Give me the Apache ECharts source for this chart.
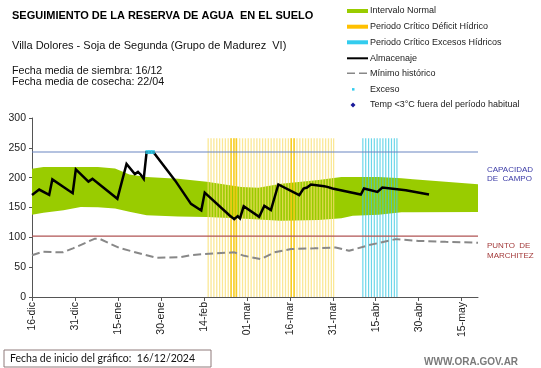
<!DOCTYPE html>
<html><head><meta charset="utf-8">
<script src="https://cdn.jsdelivr.net/npm/echarts@6/dist/echarts.min.js"></script>
<style>html,body{margin:0;padding:0;background:#fff}#c{width:541px;height:368px}</style>
</head><body><div id="c"></div>
<script>
// X axis: days since 16/12/2024
const tickDays = [0, 15, 30, 45, 60, 75, 90, 105, 120, 135, 150];
const tickLabels = ['16-dic', '31-dic', '15-ene', '30-ene', '14-feb', '01-mar', '16-mar', '31-mar', '15-abr', '30-abr', '15-may'];
const xMax = 155.7;

// Normal interval band
const bandDays = [0, 4, 11, 17, 23, 29, 34, 40, 51, 61, 73, 79, 87, 100, 108, 112, 121, 129, 133, 155.7];
const bandLow  = [138, 141, 145.5, 151, 150.5, 148.5, 143, 137, 135, 134, 131.5, 130, 128, 129, 132, 136, 138, 142, 142, 142.5];
const bandHigh = [215, 218, 218, 218, 218, 215.5, 205.5, 201, 198, 193, 184.5, 183, 190, 196, 201, 201, 201, 199, 197.5, 189];

// Almacenaje (soil water storage)
const stoDays = [0, 2.5, 6, 7.1, 14.2, 15.3, 19.7, 21.1, 29.8, 33, 35.9, 37, 38, 39, 40, 42.4, 50, 55.5, 59.1, 60.3, 68.9, 70.6, 71.8, 72.6, 73.9, 79.3, 81.1, 83.4, 86, 93.3, 94.8, 96, 97.4, 102, 103.1, 104.9, 114.8, 115.9, 120.6, 122.3, 130.5, 138.6];
const stoVals = [171, 180, 171, 197, 174, 214, 193.5, 198, 164.5, 223, 206, 209.7, 205, 198, 242.5, 242.5, 195, 156, 145, 175, 137, 130.5, 135.5, 131.6, 152, 134.4, 152.8, 145.6, 188.6, 170.7, 181.9, 183.5, 188.6, 185.7, 184.6, 181.9, 171.8, 181.9, 176.2, 183.5, 179, 171.8];

// Mínimo histórico
const minDays = [0, 3.8, 10.8, 14.3, 21.8, 23.6, 30.6, 43.3, 51.5, 55.5, 63.7, 70.6, 74.1, 79.9, 84.6, 90.4, 98.5, 106, 110.7, 117.7, 127, 135, 144.4, 155.7];
const minVals = [70, 75.8, 74.8, 81.5, 97.5, 97.5, 82, 65.8, 66.5, 70.3, 73, 74.8, 69, 63.6, 74.8, 80.3, 81.5, 83, 77.5, 87, 97, 94, 92.5, 91];

// Capacidad de campo / punto de marchitez
const fieldCapacity = 243;
const wiltingPoint = 102;

// Exceso markers
const excessDays = [40.3, 41.3, 42.2];
const excessVals = [243, 243, 243];

// Critical periods (daily lines)
const periodTop = 266;
const deficitDays = [61.5, 62.5, 63.5, 64.5, 65.5, 66.5, 67.5, 68.5, 69.5, 70.5, 71.5, 72.5, 73.5, 74.5, 75.5, 76.5, 77.5, 78.5, 79.5, 80.5, 81.5, 82.5, 83.5, 84.5, 85.5, 86.5, 87.5, 88.5, 89.5, 90.5, 91.5, 92.5, 93.5, 94.5, 95.5, 96.5, 97.5, 98.5, 99.5, 100.5, 101.5, 102.5, 103.5, 104.5, 105.3];
const deficitStrongDays = [69.5, 70.5, 71.3, 90.5, 91.5];
const excessPeriodDays = [115.5, 116.5, 117.5, 118.5, 119.5, 120.5, 121.5, 122.5, 123.5, 124.5, 125.5, 126.5, 127.4];

const FONT = 'Liberation Sans, Arial, sans-serif';

function vline(color, width) {
  return function (params, api) {
    const p0 = api.coord([api.value(0), 0]);
    const p1 = api.coord([api.value(0), api.value(1)]);
    return { type: 'line', shape: { x1: p0[0], y1: p0[1], x2: p1[0], y2: p1[1] },
      style: { stroke: color, lineWidth: width } };
  };
}

function bandPolygon(params, api) {
  if (params.dataIndex !== 0) return null;
  const pts = [];
  for (let i = 0; i < bandDays.length; i++) pts.push(api.coord([bandDays[i], bandHigh[i]]));
  for (let i = bandDays.length - 1; i >= 0; i--) pts.push(api.coord([bandDays[i], bandLow[i]]));
  return { type: 'polygon', shape: { points: pts }, style: { fill: '#99cc00' } };
}

const chart = echarts.init(document.getElementById('c'), null, { renderer: 'canvas' });

const legendRows = [
  { y: 11, kind: 'bar', color: '#99cc00', text: 'Intervalo Normal' },
  { y: 26.7, kind: 'bar', color: '#ffc000', text: 'Periodo Crítico Déficit Hídrico' },
  { y: 42.3, kind: 'bar', color: '#33ccee', text: 'Periodo Crítico Excesos Hídricos' },
  { y: 58.3, kind: 'line', color: '#000', text: 'Almacenaje' },
  { y: 73.3, kind: 'dash', color: '#888', text: 'Mínimo histórico' },
  { y: 89.3, kind: 'dot', color: '#33ccee', text: 'Exceso' },
  { y: 105, kind: 'diamond', color: '#1a1a9a', text: 'Temp <3°C fuera del período habitual' }
];
const legendEls = [];
legendRows.forEach(r => {
  if (r.kind === 'bar') legendEls.push({ type: 'rect', shape: { x: 347, y: r.y - 2, width: 21, height: 4 }, style: { fill: r.color } });
  if (r.kind === 'line') legendEls.push({ type: 'line', shape: { x1: 347, y1: r.y, x2: 368, y2: r.y }, style: { stroke: r.color, lineWidth: 2 } });
  if (r.kind === 'dash') legendEls.push({ type: 'line', shape: { x1: 347, y1: r.y, x2: 368, y2: r.y }, style: { stroke: r.color, lineWidth: 1.5, lineDash: [8, 4] } });
  if (r.kind === 'dot') legendEls.push({ type: 'rect', shape: { x: 352, y: r.y - 1.2, width: 2.5, height: 2.5 }, style: { fill: r.color } });
  if (r.kind === 'diamond') legendEls.push({ type: 'polygon', shape: { points: [[353, r.y - 2.5], [355.5, r.y], [353, r.y + 2.5], [350.5, r.y]] }, style: { fill: r.color } });
  legendEls.push({ type: 'text', x: 370, y: r.y, style: { text: r.text, font: '9px ' + FONT, fill: '#222', verticalAlign: 'middle' } });
});

const option = {
  backgroundColor: '#fff',
  animation: false,
  grid: { left: 32, right: 63, top: 118, bottom: 71, containLabel: false, outerBoundsMode: 'none' },
  xAxis: {
    type: 'value', min: 0, max: xMax, interval: 15,
    axisLine: { show: true, lineStyle: { color: '#555', width: 1 } },
    axisTick: { show: true, length: 4, lineStyle: { color: '#555' }, customValues: tickDays },
    axisLabel: { rotate: 90, fontSize: 10.5, fontFamily: FONT, color: '#222', margin: 5, customValues: tickDays,
      formatter: v => tickLabels[Math.round(v / 15)] || '' },
    splitLine: { show: false }
  },
  yAxis: {
    type: 'value', min: 0, max: 300, interval: 50,
    name: 'Milímetros', nameLocation: 'middle', nameRotate: 90, nameGap: 19,
    nameTextStyle: { fontSize: 8, fontFamily: FONT, color: '#222' },
    axisLine: { show: true, lineStyle: { color: '#555', width: 1 } },
    axisTick: { show: true, length: 3, lineStyle: { color: '#555' } },
    axisLabel: { fontSize: 10.5, fontFamily: FONT, color: '#222', margin: 6 },
    splitLine: { show: false }
  },
  series: [
    { type: 'custom', name: 'Intervalo Normal', z: 1, silent: true, renderItem: bandPolygon,
      data: bandDays.map((d, i) => [d, bandLow[i], bandHigh[i]]) },
    { type: 'custom', name: 'Periodo Crítico Déficit Hídrico', z: 2, silent: true,
      renderItem: vline('rgba(248,222,110,0.72)', 1.3),
      data: deficitDays.map(d => [d, periodTop]) },
    { type: 'custom', name: 'deficitStrong', z: 2, silent: true,
      renderItem: vline('rgba(245,196,0,0.8)', 1.5),
      data: deficitStrongDays.map(d => [d, periodTop]) },
    { type: 'custom', name: 'Periodo Crítico Excesos Hídricos', z: 2, silent: true,
      renderItem: vline('rgba(60,200,225,0.75)', 1.2),
      data: excessPeriodDays.map(d => [d, periodTop]) },
    { type: 'line', name: 'cap', symbol: 'none', z: 3,
      lineStyle: { color: '#6a86c2', width: 1.2 },
      data: [[0, fieldCapacity], [xMax, fieldCapacity]] },
    { type: 'line', name: 'wilt', symbol: 'none', z: 3,
      lineStyle: { color: '#b05555', width: 1.2 },
      data: [[0, wiltingPoint], [xMax, wiltingPoint]] },
    { type: 'line', name: 'Mínimo histórico', symbol: 'none', z: 3,
      lineStyle: { color: '#888', width: 2, type: [8, 4] },
      data: minDays.map((d, i) => [d, minVals[i]]) },
    { type: 'line', name: 'Almacenaje', symbol: 'none', z: 4,
      lineStyle: { color: '#000', width: 2.5, join: 'miter' },
      data: stoDays.map((d, i) => [d, stoVals[i]]) },
    { type: 'scatter', name: 'Exceso', z: 5, symbol: 'rect', symbolSize: [4, 4],
      itemStyle: { color: '#33ccee' },
      data: excessDays.map((d, i) => [d, excessVals[i]]) }
  ],
  graphic: [
    { type: 'text', x: 12, y: 16, style: { text: 'SEGUIMIENTO DE LA RESERVA DE AGUA  EN EL SUELO', font: 'bold 11px ' + FONT, fill: '#000', verticalAlign: 'middle' } },
    { type: 'text', x: 12, y: 45.5, style: { text: 'Villa Dolores - Soja de Segunda (Grupo de Madurez  VI)', font: '11px ' + FONT, fill: '#111', verticalAlign: 'middle' } },
    { type: 'text', x: 12, y: 71, style: { text: 'Fecha media de siembra: 16/12', font: '10.7px ' + FONT, fill: '#111', verticalAlign: 'middle' } },
    { type: 'text', x: 12, y: 82, style: { text: 'Fecha media de cosecha: 22/04', font: '10.7px ' + FONT, fill: '#111', verticalAlign: 'middle' } },
    { type: 'text', x: 487, y: 169.5, style: { text: 'CAPACIDAD', font: '8px ' + FONT, fill: '#3a3aa6', verticalAlign: 'middle' } },
    { type: 'text', x: 487, y: 179, style: { text: 'DE  CAMPO', font: '8px ' + FONT, fill: '#3a3aa6', verticalAlign: 'middle' } },
    { type: 'text', x: 487, y: 246, style: { text: 'PUNTO  DE', font: '8px ' + FONT, fill: '#a33a3a', verticalAlign: 'middle' } },
    { type: 'text', x: 487, y: 255.5, style: { text: 'MARCHITEZ', font: '8px ' + FONT, fill: '#a33a3a', verticalAlign: 'middle' } },
    { type: 'rect', shape: { x: 4, y: 350, width: 207, height: 17 }, style: { fill: '#fff', stroke: '#8f7b7b', lineWidth: 1 } },
    { type: 'text', x: 10, y: 359, style: { text: 'Fecha de inicio del gráfico:  16/12/2024', font: '10.5px Lato, sans-serif', fill: '#111', verticalAlign: 'middle' } },
    { type: 'text', x: 424, y: 362, style: { text: 'WWW.ORA.GOV.AR', font: 'bold 10px ' + FONT, fill: '#7a7a7a', verticalAlign: 'middle' } }
  ].concat(legendEls)
};
chart.setOption(option);
</script>
</body></html>
